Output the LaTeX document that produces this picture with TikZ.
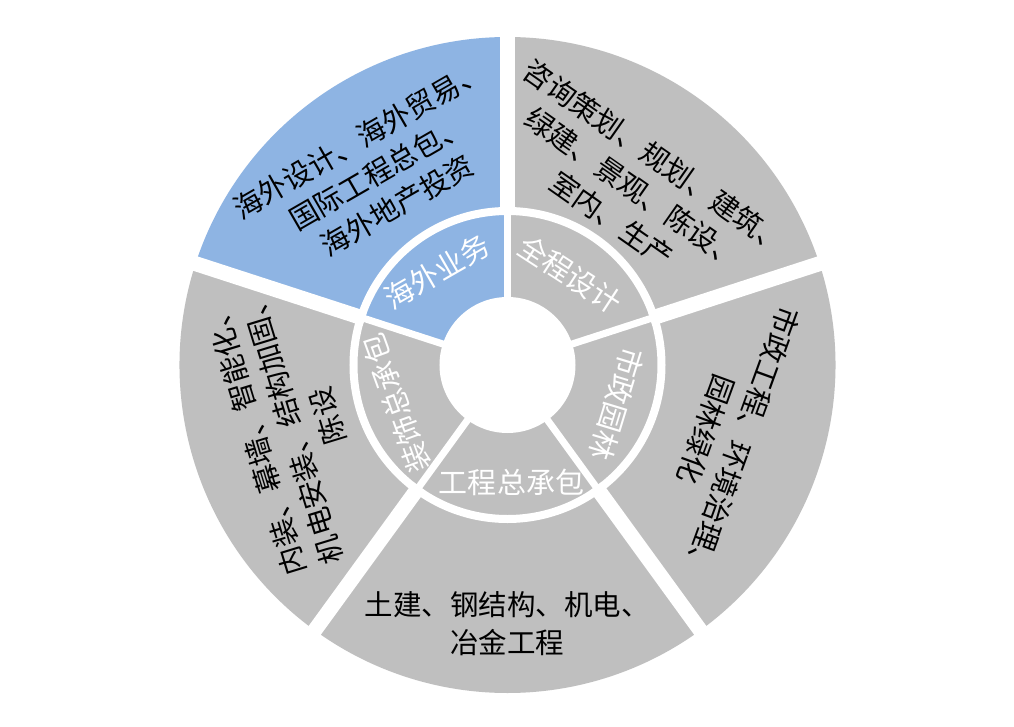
\documentclass[tikz,border=0pt]{standalone}
\usepackage{fontspec}
\newfontfamily\cjk{Noto Sans CJK SC}
\definecolor{segblue}{HTML}{8EB4E3}
\definecolor{seggrey}{HTML}{BFBFBF}
\begin{document}
\begin{tikzpicture}[x=1pt,y=1pt,
  outertext/.style={font=\cjk\fontsize{28.5pt}{38pt}\selectfont, align=center, inner sep=0pt, text=black},
  innertext/.style={font=\cjk\fontsize{29pt}{36pt}\selectfont, inner sep=0pt, text=white},
  gapin/.style={white, line width=7pt},
  gapout/.style={white, line width=15pt}]
\fill[white] (-507.5,-361) rectangle (506.5,365);
\useasboundingbox (-507.5,-361) rectangle (506.5,365);
\coordinate (c) at (0,0);
% sectors
\foreach \a/\b/\col in {90/162/segblue, 18/90/seggrey, -54/18/seggrey, -126/-54/seggrey, 162/234/seggrey}{
  \fill[\col] (c) -- (\a:328pt) arc[start angle=\a, end angle=\b, radius=328pt] -- cycle;
}
% rings
\draw[white, line width=8pt] (c) circle[radius=154pt];
\fill[white] (c) circle[radius=68pt];
% gaps
\foreach \a in {90,18,-54,-126,162}{
  \draw[gapin] (c) -- (\a:154pt);
  \draw[gapout] (\a:150pt) -- (\a:340pt);
}
% outer texts
\node[outertext, rotate=30] (t1) at (123.9:232pt) {海外设计、海外贸易、\\国际工程总包、\\海外地产投资};
\node[outertext, rotate=-35] (t2) at (126,177) {咨询策划、规划、建筑、\\绿建、景观、陈设、\\室内、生产};
\node[outertext, rotate=-110] (t3) at (216.5,-71) {市政工程、环境治理、\\园林绿化};
\node[outertext] (t4) at (0,-259) {土建、钢结构、机电、\\冶金工程};
\node[outertext, rotate=107] (t5) at (196:225pt) {内装、幕墙、智能化、\\机电安装、结构加固、\\陈设};
% inner texts
\node[innertext, rotate=30] (i1) at (127:117pt) {海外业务};
\node[innertext, rotate=-33] (i2) at (55.5:110pt) {全程设计};
\node[innertext, rotate=-107] (i3) at (-19.6:116pt) {市政园林};
\node[innertext] (i4) at (4,-117) {工程总承包};
\node[innertext, rotate=110] (i5) at (199:118pt) {装饰总承包};
\end{tikzpicture}
\end{document}
